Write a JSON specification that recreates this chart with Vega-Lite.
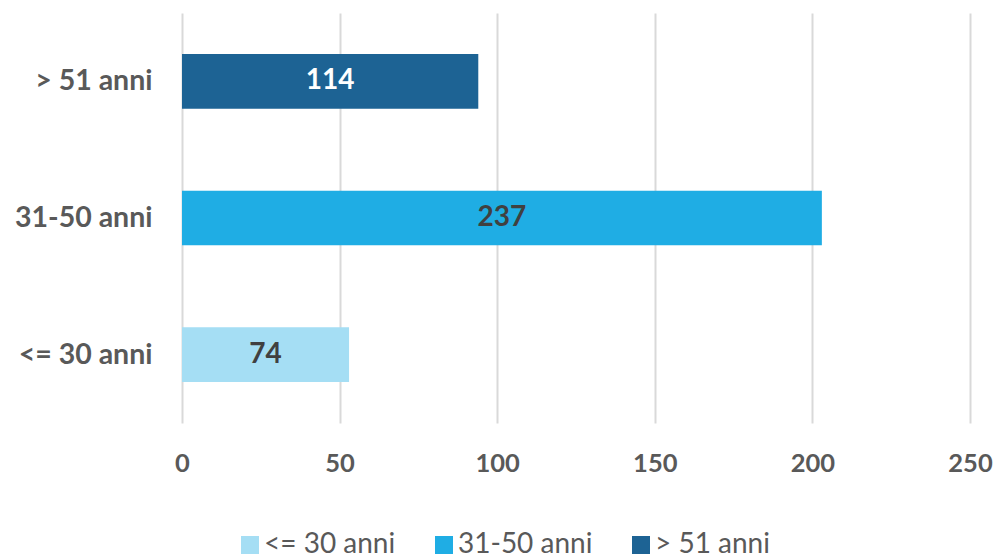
{
  "$schema": "https://vega.github.io/schema/vega-lite/v6.json",
  "width": 788,
  "height": 410,
  "autosize": {"type": "none"},
  "padding": {"left": 182, "top": 13, "right": 28, "bottom": 135},
  "background": "white",
  "config": {
    "view": {"stroke": null},
    "font": "Lato"
  },
  "data": {
    "values": [
      {"group": "<= 30 anni", "value": 53, "label": "74"},
      {"group": "31-50 anni", "value": 203, "label": "237"},
      {"group": "> 51 anni", "value": 94, "label": "114"}
    ]
  },
  "transform": [{"calculate": "datum.value / 2", "as": "mid"}],
  "encoding": {
    "y": {
      "field": "group",
      "type": "nominal",
      "sort": ["> 51 anni", "31-50 anni", "<= 30 anni"],
      "scale": {"paddingInner": 0.6, "paddingOuter": 0.3},
      "axis": {
        "title": null,
        "domain": false,
        "ticks": false,
        "labelFont": "Lato",
        "labelFontWeight": "bold",
        "labelFontSize": 28.5,
        "labelColor": "#595959",
        "labelPadding": 30
      }
    }
  },
  "layer": [
    {
      "mark": {"type": "bar"},
      "encoding": {
        "x": {
          "field": "value",
          "type": "quantitative",
          "scale": {"domain": [0, 250], "nice": false},
          "axis": {
            "title": null,
            "values": [0, 50, 100, 150, 200, 250],
            "domain": false,
            "ticks": false,
            "grid": true,
            "gridColor": "#D9D9D9",
            "gridWidth": 2,
            "labelFont": "Lato",
            "labelFontWeight": "bold",
            "labelFontSize": 25.5,
            "labelColor": "#595959",
            "labelPadding": 28,
            "labelFlush": false
          }
        },
        "color": {
          "field": "group",
          "type": "nominal",
          "sort": ["<= 30 anni", "31-50 anni", "> 51 anni"],
          "scale": {
            "domain": ["<= 30 anni", "31-50 anni", "> 51 anni"],
            "range": ["#A5DEF4", "#1FADE4", "#1D6394"]
          },
          "legend": {
            "title": null,
            "orient": "none",
            "direction": "horizontal",
            "legendX": 54,
            "legendY": 518,
            "symbolType": "square",
            "symbolSize": 324,
            "symbolStrokeWidth": 0,
            "labelFont": "Lato",
            "labelFontSize": 28,
            "labelColor": "#595959",
            "columnPadding": 34,
            "labelOffset": 0
          }
        }
      }
    },
    {
      "mark": {"type": "text", "fontWeight": "bold", "fontSize": 28, "font": "Lato", "baseline": "middle", "align": "center"},
      "encoding": {
        "x": {"field": "mid", "type": "quantitative"},
        "text": {"field": "label"},
        "color": {
          "condition": {"test": "datum.group === '> 51 anni'", "value": "#FFFFFF"},
          "value": "#404040"
        }
      }
    }
  ]
}
